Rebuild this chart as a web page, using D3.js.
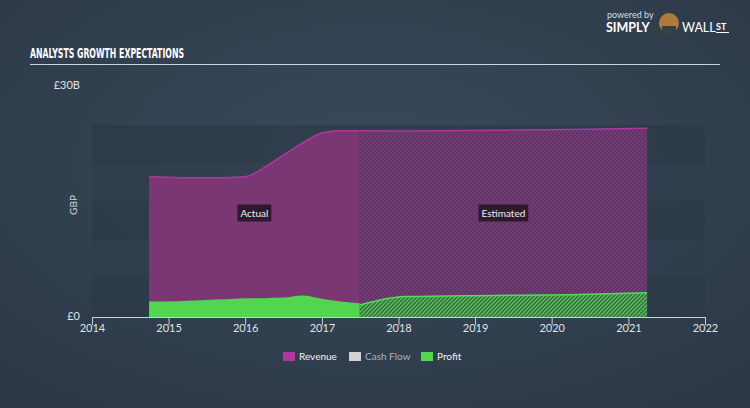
<!DOCTYPE html>
<html><head><meta charset="utf-8">
<script src="https://cdn.jsdelivr.net/npm/d3@7"></script>
<style>
html,body{margin:0;padding:0;background:#2f3c4b;}
svg{display:block;}
</style></head>
<body>
<svg id="c" width="750" height="408"></svg>
<script>
// ---------- data ----------
const actualDates = ["2014-09-30","2014-12-31","2015-03-31","2015-06-30","2015-09-30","2015-12-31","2016-03-31","2016-06-30","2016-09-30","2016-12-31","2017-03-31","2017-06-30"];
const revenueActual = [18.2,18.15,18.1,18.1,18.1,18.2,19.4,21.0,22.6,23.9,24.2,24.2];
const profitActual  = [2.0,2.02,2.12,2.22,2.3,2.42,2.45,2.52,2.8,2.38,2.0,1.8];
const estDates = ["2017-06-30","2018-01-31","2019-03-31","2020-03-31","2021-03-31"];
const revenueEst = [24.2,24.15,24.25,24.35,24.5];
const profitEst  = [1.55,2.65,2.8,2.9,3.15];
const yearTicks = [2014,2015,2016,2017,2018,2019,2020,2021,2022];
const yTickValues = [0,30];
const yTickLabels = ["£0","£30B"];
const legendItems = ["Revenue","Cash Flow","Profit"];
const legendColors = ["#b0389f","#d2d2d2","#52d64f"];

// ---------- setup ----------
const svg = d3.select("#c");
const W = 750, H = 408;
const parse = d3.utcParse("%Y-%m-%d");
const x = d3.scaleUtc().domain([new Date(Date.UTC(2014,0,1)), new Date(Date.UTC(2022,0,1))]).range([92,705]);
const y = d3.scaleLinear().domain([0,30]).range([317,86]);

const defs = svg.append("defs");
const bg = defs.append("radialGradient").attr("id","bg").attr("cx","50%").attr("cy","40%").attr("r","70%");
bg.append("stop").attr("offset","0%").attr("stop-color","#3a4a5b");
bg.append("stop").attr("offset","100%").attr("stop-color","#2c3847");

const pR = defs.append("pattern").attr("id","hatchR").attr("patternUnits","userSpaceOnUse").attr("width",4).attr("height",4);
pR.append("rect").attr("width",4).attr("height",4).attr("fill","#5a3362");
pR.append("path").attr("d","M-1,1 l2,-2 M0,4 l4,-4 M3,5 l2,-2").attr("stroke","#7c3c79").attr("stroke-width",1.3);
const pG = defs.append("pattern").attr("id","hatchG").attr("patternUnits","userSpaceOnUse").attr("width",4).attr("height",4);
pG.append("rect").attr("width",4).attr("height",4).attr("fill","#356b45");
pG.append("path").attr("d","M-1,1 l2,-2 M0,4 l4,-4 M3,5 l2,-2").attr("stroke","#58c456").attr("stroke-width",1.3);

svg.append("rect").attr("width",W).attr("height",H).attr("fill","url(#bg)");

// plot background bands
const bandEdges = [125,163,201,240,278,317];
for (let i=0;i<5;i++){
  svg.append("rect").attr("x",92).attr("y",bandEdges[i]).attr("width",613).attr("height",bandEdges[i+1]-bandEdges[i])
    .attr("fill", i%2===0 ? "#2a3644" : "#2f3c4a").attr("opacity",0.55);
}

// title
svg.append("text").attr("x",30).attr("y",58).text("ANALYSTS GROWTH EXPECTATIONS")
  .attr("fill","#ffffff").attr("font-family","'Liberation Sans Narrow','DejaVu Sans Condensed',sans-serif")
  .attr("font-weight","bold").attr("font-size",14).attr("textLength",154).attr("lengthAdjust","spacingAndGlyphs");
svg.append("line").attr("x1",30).attr("x2",720).attr("y1",64.5).attr("y2",64.5).attr("stroke","#c9d6e0").attr("stroke-width",1);

// logo
const logo = svg.append("g").attr("font-family","Lato, sans-serif").attr("fill","#ffffff");
logo.append("text").attr("x",607).attr("y",18).attr("font-size",9).attr("fill","#d7dde3").text("powered by");
logo.append("text").attr("x",606).attr("y",32).attr("font-size",12.5).attr("font-weight","bold").text("SIMPLY");
logo.append("circle").attr("cx",669).attr("cy",23).attr("r",10).attr("fill","#b07a3a");
logo.append("rect").attr("x",662).attr("y",26).attr("width",14).attr("height",10).attr("fill","#3a3f47");
logo.append("text").attr("x",682).attr("y",32).attr("font-size",12.5).text("WALL");
logo.append("text").attr("x",716).attr("y",30).attr("font-size",9).attr("font-weight","bold").text("ST");
logo.append("line").attr("x1",716).attr("x2",729).attr("y1",32.5).attr("y2",32.5).attr("stroke","#fff").attr("stroke-width",1);

// series
const act = actualDates.map((d,i)=>({d:parse(d), r:revenueActual[i], p:profitActual[i]}));
const est = estDates.map((d,i)=>({d:parse(d), r:revenueEst[i], p:profitEst[i]}));
const curve = d3.curveMonotoneX;
const areaR = d3.area().curve(curve).x(d=>x(d.d)).y0(y(0)).y1(d=>y(d.r));
const areaP = d3.area().curve(curve).x(d=>x(d.d)).y0(y(0)).y1(d=>y(d.p));
const lineR = d3.line().curve(curve).x(d=>x(d.d)).y(d=>y(d.r));
const lineP = d3.line().curve(curve).x(d=>x(d.d)).y(d=>y(d.p));

// estimated
svg.append("path").datum(est).attr("d",areaR).attr("fill","url(#hatchR)");
svg.append("path").datum(est).attr("d",areaP).attr("fill","url(#hatchG)");
svg.append("path").datum(est).attr("d",lineR).attr("fill","none").attr("stroke","#a93a9b").attr("stroke-width",1.5);
svg.append("path").datum(est).attr("d",lineP).attr("fill","none").attr("stroke","#55dc52").attr("stroke-width",1.5);
// actual
svg.append("path").datum(act).attr("d",areaR).attr("fill","#7b3774");
svg.append("path").datum(act).attr("d",lineR).attr("fill","none").attr("stroke","#a93a9b").attr("stroke-width",1.5);
svg.append("path").datum(act).attr("d",areaP).attr("fill","#52d64f");

// labels Actual / Estimated
function tag(cx, cy, txt){
  const g = svg.append("g");
  const t = g.append("text").attr("x",cx).attr("y",cy+3.5).attr("text-anchor","middle")
    .attr("font-family","Lato, sans-serif").attr("font-size",10).attr("fill","#f2eef2").text(txt);
  const bb = t.node().getBBox();
  g.insert("rect","text").attr("x",bb.x-3).attr("y",cy-8.5).attr("width",bb.width+6).attr("height",17).attr("fill","#2e1a2d").attr("rx",1);
}
tag((x(act[0].d)+x(act[act.length-1].d))/2, 213, "Actual");
tag((x(est[0].d)+x(est[est.length-1].d))/2, 213, "Estimated");

// x axis
const xAxis = d3.axisBottom(x).tickValues(yearTicks.map(yr=>new Date(Date.UTC(yr,0,1))))
  .tickFormat(d3.utcFormat("%Y")).tickSize(8).tickPadding(-1);
const gx = svg.append("g").attr("transform","translate(0,317)").call(xAxis);
gx.select(".domain").attr("stroke","#c9d1d8").attr("d","M92.5,0.5H705.5");
gx.selectAll(".tick line").attr("stroke","#c9d1d8");
gx.selectAll(".tick text").attr("fill","#dfe4e8").attr("font-family","Lato, sans-serif").attr("font-size",11);

// y axis labels
const yAxis = d3.axisLeft(y).tickValues(yTickValues).tickFormat((d,i)=>yTickLabels[i]).tickSize(0).tickPadding(12);
const gy = svg.append("g").attr("transform","translate(92,0)").call(yAxis);
gy.select(".domain").remove();
gy.selectAll(".tick text").attr("fill","#dfe4e8").attr("font-family","Lato, sans-serif").attr("font-size",11).attr("dy","0.2em");
svg.append("text").attr("transform","translate(77,205) rotate(-90)").attr("text-anchor","middle")
  .attr("fill","#cfd6dc").attr("font-family","Lato, sans-serif").attr("font-size",10).text("GBP");

// legend
const legX = [283,349,421];
const lg = svg.append("g");
legendItems.forEach((name,i)=>{
  lg.append("rect").attr("x",legX[i]).attr("y",352).attr("width",12).attr("height",9).attr("fill",legendColors[i]);
  lg.append("text").attr("x",legX[i]+16).attr("y",360).attr("font-family","Lato, sans-serif").attr("font-size",10)
    .attr("fill", name==="Cash Flow" ? "#aab3bb" : "#f0f2f4").text(name);
});
</script>
</body></html>
